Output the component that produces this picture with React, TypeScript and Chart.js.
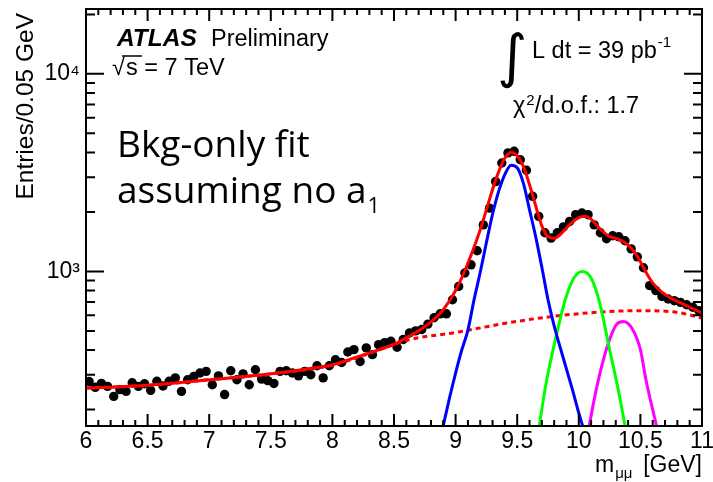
import { useEffect, useRef } from "react";
import { Chart, registerables } from "chart.js";

Chart.register(...registerables);

// ---- data ----
const binCenters = [
  6.025, 6.075, 6.125, 6.175, 6.225, 6.275, 6.325, 6.375, 6.425, 6.475,
  6.525, 6.575, 6.625, 6.675, 6.725, 6.775, 6.825, 6.875, 6.925, 6.975,
  7.025, 7.075, 7.125, 7.175, 7.225, 7.275, 7.325, 7.375, 7.425, 7.475,
  7.525, 7.575, 7.625, 7.675, 7.725, 7.775, 7.825, 7.875, 7.925, 7.975,
  8.025, 8.075, 8.125, 8.175, 8.225, 8.275, 8.325, 8.375, 8.425, 8.475,
  8.525, 8.575, 8.625, 8.675, 8.725, 8.775, 8.825, 8.875, 8.925, 8.975,
  9.025, 9.075, 9.125, 9.175, 9.225, 9.275, 9.325, 9.375, 9.425, 9.475,
  9.525, 9.575, 9.625, 9.675, 9.725, 9.775, 9.825, 9.875, 9.925, 9.975,
  10.025, 10.075, 10.125, 10.175, 10.225, 10.275, 10.325, 10.375, 10.425, 10.475,
  10.525, 10.575, 10.625, 10.675, 10.725, 10.775, 10.825, 10.875, 10.925, 10.975,
];
const entries = [
  277, 259, 271, 262, 233, 252, 247, 273, 262, 270,
  250, 278, 263, 278, 289, 247, 283, 294, 306, 312,
  267, 296, 238, 314, 283, 303, 267, 318, 285, 280,
  271, 312, 314, 306, 296, 312, 300, 333, 289, 333,
  357, 346, 391, 402, 350, 410, 379, 426, 436, 443,
  413, 452, 488, 500, 508, 541, 583, 610, 610, 719,
  840, 982, 1080, 1273, 1720, 2090, 2850, 3540, 3980, 4055,
  3674, 3250, 2400, 1900, 1570, 1475, 1570, 1680, 1790, 1937,
  1975, 1937, 1720, 1570, 1463, 1515, 1497, 1430, 1300, 1185,
  1044, 847, 800, 747, 725, 711, 697, 678, 659, 633,
];

const totalFitX = [6.0, 6.25, 6.5, 6.75, 7.0, 7.25, 7.5, 7.75, 8.0, 8.25, 8.5, 8.6, 8.7, 8.8, 8.9, 9.0, 9.1, 9.2, 9.3, 9.35, 9.4, 9.45, 9.5, 9.55, 9.6, 9.65, 9.7, 9.75, 9.8, 9.85, 9.9, 9.95, 10.0, 10.05, 10.1, 10.15, 10.2, 10.25, 10.3, 10.35, 10.4, 10.45, 10.5, 10.55, 10.6, 10.65, 10.7, 10.8, 10.9, 11.0];
const totalFitY = [257, 260, 265, 273, 283, 292, 303, 318, 337, 378, 428, 462, 500, 555, 640, 800, 1100, 1625, 2600, 3200, 3750, 4000, 3850, 3400, 2750, 2150, 1700, 1500, 1470, 1540, 1660, 1780, 1870, 1900, 1840, 1700, 1580, 1500, 1470, 1430, 1360, 1260, 1120, 980, 875, 810, 765, 705, 660, 616];

const bkgFitX = [6.0, 6.5, 7.0, 7.5, 8.0, 8.25, 8.5, 8.6, 9.0, 9.5, 10.0, 10.5, 10.8, 11.0];
const bkgFitY = [257, 265, 283, 303, 335, 375, 426, 448, 491, 559, 611, 633, 620, 581];

const ups1sX = [8.9, 8.95, 9.0, 9.05, 9.1, 9.15, 9.2, 9.25, 9.3, 9.35, 9.4, 9.45, 9.5, 9.55, 9.6, 9.65, 9.7, 9.75, 9.8, 9.85, 9.9, 9.95, 10.0, 10.03];
const ups1sY = [166, 228, 306, 400, 505, 720, 990, 1400, 1950, 2550, 3100, 3450, 3350, 2800, 2050, 1500, 1050, 720, 530, 410, 320, 250, 192, 166];

const ups2sX = [9.68, 9.73, 9.81, 9.89, 9.96, 10.03, 10.1, 10.17, 10.25, 10.32, 10.375];
const ups2sY = [166, 262, 452, 719, 926, 1000, 926, 692, 402, 252, 166];

const ups3sX = [10.085, 10.13, 10.185, 10.25, 10.305, 10.36, 10.43, 10.5, 10.545, 10.63];
const ups3sY = [166, 233, 330, 452, 538, 558, 517, 402, 283, 166];

const xMajorTicks = [6, 6.5, 7, 7.5, 8, 8.5, 9, 9.5, 10, 10.5, 11];
const xTickLabels = ["6", "6.5", "7", "7.5", "8", "8.5", "9", "9.5", "10", "10.5", "11"];
const yTickValues = [200, 300, 400, 500, 600, 700, 800, 900, 1000, 2000, 3000, 4000, 5000, 6000, 7000, 8000, 9000, 10000, 20000];
const yMajorTicks = [1000, 10000];
const yTickLabels = ["10³", "10⁴"];

const pairs = (xs: number[], ys: number[]) => xs.map((x, i) => ({ x, y: ys[i] }));
const HELV = "'Liberation Sans', Arial, sans-serif";

const xLabelFor = (v: number) => {
  const idx = xMajorTicks.findIndex((m) => Math.abs(m - v) < 1e-6);
  return idx >= 0 ? xTickLabels[idx] : "";
};
const yLabelFor = (v: number) => {
  const idx = yMajorTicks.findIndex((m) => Math.abs(m - v) < 1e-6);
  return idx >= 0 ? yTickLabels[idx] : "";
};

const overlay = {
  id: "overlay",
  afterDraw(chart: any) {
    const ctx: CanvasRenderingContext2D = chart.ctx;
    const { left, right, top, bottom } = chart.chartArea;
    const xs = chart.scales.x;
    const ys = chart.scales.y;
    ctx.save();
    ctx.strokeStyle = "#000";
    ctx.lineWidth = 2;
    ctx.strokeRect(left, top, right - left, bottom - top);
    ctx.beginPath();
    xs.ticks.forEach((t: any) => {
      const px = xs.getPixelForValue(t.value);
      const len = xLabelFor(t.value) ? 12 : 6;
      ctx.moveTo(px, bottom);
      ctx.lineTo(px, bottom - len);
      ctx.moveTo(px, top);
      ctx.lineTo(px, top + len);
    });
    ys.ticks.forEach((t: any) => {
      const py = ys.getPixelForValue(t.value);
      const len = yLabelFor(t.value) ? 18 : 9;
      ctx.moveTo(left, py);
      ctx.lineTo(left + len, py);
      ctx.moveTo(right, py);
      ctx.lineTo(right - len, py);
    });
    ctx.stroke();

    ctx.fillStyle = "#000";
    ctx.textBaseline = "alphabetic";
    ctx.textAlign = "left";

    // ATLAS Preliminary
    ctx.font = `italic bold 24.5px ${HELV}`;
    ctx.fillText("ATLAS", 117, 46);
    ctx.font = `23.5px ${HELV}`;
    ctx.fillText("Preliminary", 211, 46);

    // sqrt(s) = 7 TeV
    ctx.textAlign = "right";
    ctx.fillText("√", 125, 75);
    ctx.textAlign = "left";
    ctx.fillText("s = 7 TeV", 126, 75);
    ctx.beginPath();
    ctx.lineWidth = 1.5;
    ctx.moveTo(122, 56);
    ctx.lineTo(142, 56);
    ctx.stroke();

    // integral L dt
    ctx.font = `58px 'DejaVu Sans', sans-serif`;
    ctx.fillText("∫", 497, 76);
    ctx.font = `23.5px ${HELV}`;
    const lum = "L dt = 39 pb";
    ctx.fillText(lum, 532, 58);
    const lw = ctx.measureText(lum).width;
    ctx.font = `15px ${HELV}`;
    ctx.fillText("-1", 532 + lw + 1, 47);

    // chi2
    ctx.font = `23.5px ${HELV}`;
    ctx.fillText("χ", 513, 113);
    const cw = ctx.measureText("χ").width;
    ctx.font = `15px ${HELV}`;
    ctx.fillText("2", 513 + cw + 1, 105);
    const tw = ctx.measureText("2").width;
    ctx.font = `23.5px ${HELV}`;
    ctx.fillText("/d.o.f.: 1.7", 513 + cw + tw + 1, 113);

    // Bkg-only fit
    ctx.font = `37px 'Open Sans', sans-serif`;
    ctx.fillText("Bkg-only fit", 117, 157);
    const a1 = "assuming no a";
    ctx.fillText(a1, 117, 203);
    const aw = ctx.measureText(a1).width;
    ctx.font = `22px 'Open Sans', sans-serif`;
    ctx.fillText("1", 117 + aw + 1, 213);

    // x-axis title
    ctx.font = `23px ${HELV}`;
    ctx.fillText("m", 595, 472);
    const mw = ctx.measureText("m").width;
    ctx.font = `15px ${HELV}`;
    ctx.fillText("μμ", 595 + mw + 1, 478);
    ctx.font = `23px ${HELV}`;
    ctx.textAlign = "right";
    ctx.fillText("[GeV]", 702, 472);

    // y-axis title
    ctx.save();
    ctx.translate(33, 13);
    ctx.rotate(-Math.PI / 2);
    ctx.font = `24.5px ${HELV}`;
    ctx.textAlign = "right";
    ctx.fillText("Entries/0.05 GeV", 0, 0);
    ctx.restore();

    ctx.restore();
  },
};

export default function App() {
  const ref = useRef<HTMLCanvasElement>(null);
  useEffect(() => {
    const lineDs = (label: string, xs: number[], ys: number[], color: string, dash: number[] = []) => ({
      type: "line" as const,
      label,
      data: pairs(xs, ys),
      showLine: true,
      borderColor: color,
      borderWidth: 3,
      borderDash: dash,
      pointRadius: 0,
      fill: false,
      cubicInterpolationMode: "monotone" as const,
    });
    const chart = new Chart(ref.current as HTMLCanvasElement, {
      type: "scatter",
      data: {
        datasets: [
          lineDs("Total fit", totalFitX, totalFitY, "#ff0000"),
          lineDs("Υ(1S)", ups1sX, ups1sY, "#0000ff"),
          lineDs("Υ(2S)", ups2sX, ups2sY, "#00ff00"),
          lineDs("Υ(3S)", ups3sX, ups3sY, "#ff00ff"),
          lineDs("Background", bkgFitX, bkgFitY, "#ff0000", [5, 4]),
          {
            type: "scatter" as const,
            label: "Data",
            data: pairs(binCenters, entries),
            pointRadius: 4.7,
            pointBackgroundColor: "#000",
            pointBorderWidth: 0,
            showLine: false,
          } as any,
        ],
      },
      options: {
        responsive: false,
        animation: false,
        layout: { padding: { left: 0, right: 11, top: 9, bottom: 0 } },
        plugins: { legend: { display: false }, tooltip: { enabled: false } },
        scales: {
          x: {
            type: "linear",
            position: "bottom",
            min: 6,
            max: 11,
            grid: { display: false, drawTicks: false },
            border: { display: false },
            ticks: {
              stepSize: 0.1,
              autoSkip: false,
              maxRotation: 0,
              minRotation: 0,
              padding: 2,
              color: "#000",
              font: { family: HELV, size: 23 },
              callback: (v: any) => xLabelFor(Number(v)),
            },
            afterFit: (s: any) => {
              s.height = 56;
              s.paddingLeft = 0;
              s.paddingRight = 0;
            },
          },
          y: {
            type: "logarithmic",
            min: 165,
            max: 21300,
            grid: { display: false, drawTicks: false },
            border: { display: false },
            afterBuildTicks: (s: any) => {
              s.ticks = yTickValues.map((v) => ({ value: v }));
            },
            ticks: {
              autoSkip: false,
              padding: 6,
              color: "#000",
              font: { family: HELV, size: 23 },
              callback: (v: any) => yLabelFor(Number(v)),
            },
            afterFit: (s: any) => {
              s.width = 86;
              s.paddingTop = 0;
              s.paddingBottom = 0;
            },
          },
        },
      },
      plugins: [overlay],
    });
    return () => chart.destroy();
  }, []);
  return (
    <div style={{ position: "fixed", left: 0, top: 0, width: 713, height: 482, background: "#fff" }}>
      <canvas ref={ref} width={713} height={482} style={{ width: 713, height: 482, display: "block" }} />
    </div>
  );
}
